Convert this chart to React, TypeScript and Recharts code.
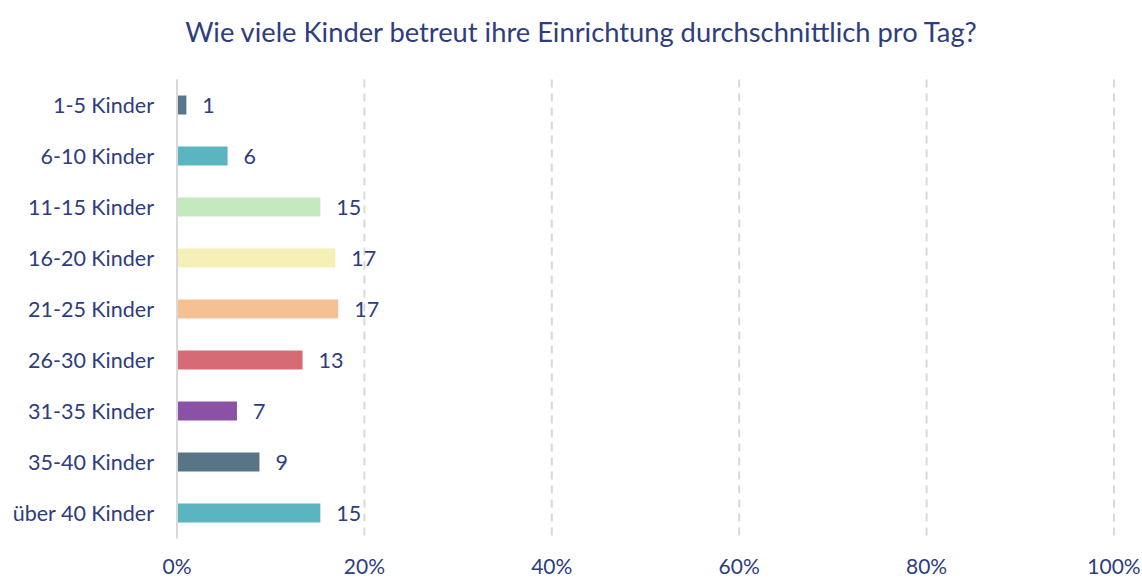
import React from "react";
import { Bar, BarChart, CartesianGrid, Cell, LabelList, XAxis, YAxis } from "recharts";

// categories, counts (shown as labels) and their share in percent (bar length)
const categories = [
  "1-5 Kinder",
  "6-10 Kinder",
  "11-15 Kinder",
  "16-20 Kinder",
  "21-25 Kinder",
  "26-30 Kinder",
  "31-35 Kinder",
  "35-40 Kinder",
  "über 40 Kinder",
];
const counts = [1, 6, 15, 17, 17, 13, 7, 9, 15];
const shares = [1.0, 5.4, 15.3, 16.9, 17.2, 13.4, 6.4, 8.8, 15.3];
const xTicks = [0, 20, 40, 60, 80, 100];

const COLORS = [
  "#58768A",
  "#5BB5C0",
  "#C5E9BE",
  "#F5F0B5",
  "#F5C094",
  "#D66B75",
  "#8A51A7",
  "#587588",
  "#5BB5C0",
];

const TEXT = "#2E3D7E";
const FONT = "Lato, 'Open Sans', sans-serif";

const App = () => {
  const data = categories.map((name, i) => ({ name, share: shares[i], count: counts[i] }));

  return (
    <div style={{ position: "relative", width: 1142, height: 580, fontFamily: FONT, background: "#fff" }}>
      <style>{"body{margin:0}"}</style>
      <div
        style={{
          position: "absolute",
          top: 15,
          left: 0,
          width: 1162,
          textAlign: "center",
          fontSize: 27.3,
          color: TEXT,
        }}
      >
        Wie viele Kinder betreut ihre Einrichtung durchschnittlich pro Tag?
      </div>
      <BarChart
        layout="vertical"
        width={1142}
        height={580}
        data={data}
        margin={{ top: 79.5, right: 28, bottom: 0, left: 0 }}
        barSize={19}
      >
        <CartesianGrid horizontal={false} stroke="#D9D9D9" strokeWidth={2} strokeDasharray="8 6" />
        <XAxis
          type="number"
          domain={[0, 100]}
          ticks={xTicks}
          tickFormatter={(v) => `${v}%`}
          axisLine={false}
          tickLine={false}
          height={41.5}
          tickMargin={15}
          tick={{ fill: TEXT, fontSize: 21, fontFamily: FONT }}
        />
        <YAxis
          type="category"
          dataKey="name"
          width={177}
          axisLine={{ stroke: "#D9D9D9", strokeWidth: 2 }}
          tickLine={false}
          tickMargin={17}
          tick={{ fill: TEXT, fontSize: 21.5, fontFamily: FONT }}
        />
        <Bar dataKey="share" isAnimationActive={false}>
          {data.map((entry, index) => (
            <Cell key={`cell-${index}`} fill={COLORS[index % COLORS.length]} />
          ))}
          <LabelList dataKey="count" position="right" offset={16} fill={TEXT} fontSize={21.5} fontFamily={FONT} />
        </Bar>
      </BarChart>
    </div>
  );
};

export default App;
